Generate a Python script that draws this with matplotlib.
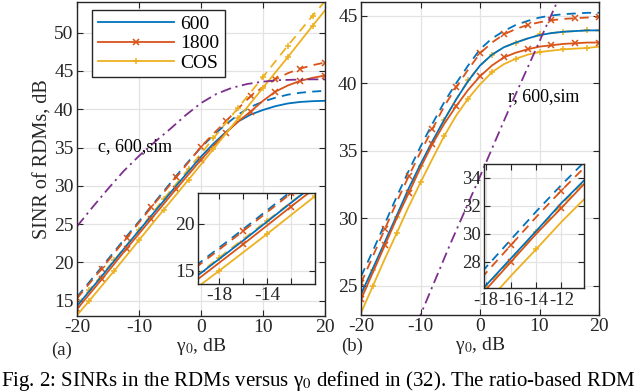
import numpy as np
import matplotlib.pyplot as plt

plt.rcParams['font.family'] = ['Liberation Serif', 'DejaVu Serif']
plt.rcParams['mathtext.fontset'] = 'stix'
plt.rcParams['axes.unicode_minus'] = False

BLUE = '#0072BD'
ORANGE = '#D95319'
YELLOW = '#EDB120'
PURPLE = '#7E2F8E'
DARK = '#262626'

gamma = [-20, -18, -16, -14, -12, -10, -8, -6, -4, -2, 0,
         2, 4, 6, 8, 10, 12, 14, 16, 18, 20]

# (a) c-based RDM
a_600 = [14.3, 16.25, 18.2, 20.2, 22.2, 24.15, 26.1, 28.05, 30.0, 31.9, 33.8,
         35.5, 37.0, 38.4, 39.3, 39.9, 40.4, 40.75, 40.95, 41.05, 41.1]
a_600_d = [15.5, 17.45, 19.4, 21.4, 23.4, 25.35, 27.35, 29.3, 31.3, 33.2, 35.0,
           36.6, 38.0, 39.3, 40.3, 41.0, 41.5, 41.9, 42.15, 42.3, 42.4]
a_1800 = [13.9, 15.85, 17.8, 19.8, 21.8, 23.75, 25.7, 27.65, 29.6, 31.5, 33.4,
          35.2, 36.9, 38.4, 39.7, 41.1, 42.3, 43.1, 43.7, 44.1, 44.4]
a_1800_d = [15.3, 17.25, 19.2, 21.2, 23.2, 25.2, 27.2, 29.15, 31.1, 33.1, 35.1,
            36.8, 38.4, 40.1, 41.7, 42.9, 43.9, 44.7, 45.3, 45.75, 46.1]
a_cos = [13.1, 15.0, 16.95, 18.9, 20.9, 22.9, 24.9, 26.9, 28.85, 30.8, 32.8,
         34.8, 36.8, 38.8, 40.8, 42.8, 44.8, 46.8, 48.85, 50.9, 52.9]
a_cos_d = [14.4, 16.4, 18.35, 20.3, 22.25, 24.2, 26.25, 28.3, 30.25, 32.2, 34.2,
           36.2, 38.2, 40.2, 42.2, 44.2, 46.25, 48.3, 50.25, 52.2, 54.1]
a_sim_x = [-20, -17.5, -15, -12.5, -10, -7.5, -5, -2.5, 0, 2.5, 5, 7.5, 10,
           12.5, 15, 17.5, 20]
a_sim = [24.7, 27.2, 29.6, 31.9, 33.9, 35.7, 37.4, 39.2, 40.8, 42.0, 42.8, 43.3,
         43.6, 43.8, 43.85, 43.9, 43.9]

# (b) ratio-based RDM
b_600 = [24.4, 26.3, 28.25, 30.2, 32.2, 34.0, 35.7, 37.3, 38.8, 40.15, 41.3,
         42.1, 42.65, 43.0, 43.3, 43.55, 43.7, 43.8, 43.85, 43.9, 43.9]
b_600_d = [25.7, 27.6, 29.6, 31.6, 33.5, 35.3, 37.0, 38.6, 40.0, 41.3, 42.5,
           43.3, 43.85, 44.3, 44.6, 44.85, 45.0, 45.1, 45.15, 45.2, 45.2]
b_1800 = [24.0, 26.0, 28.0, 30.0, 31.85, 33.75, 35.5, 37.0, 38.3, 39.5, 40.5,
          41.3, 41.9, 42.25, 42.5, 42.7, 42.8, 42.9, 42.95, 43.0, 43.0]
b_1800_d = [25.2, 27.2, 29.2, 31.2, 33.1, 34.9, 36.6, 38.3, 39.7, 41.0, 42.2,
            43.0, 43.6, 44.0, 44.3, 44.5, 44.65, 44.75, 44.8, 44.85, 44.9]
b_cos = [23.0, 25.0, 27.0, 28.9, 30.85, 32.65, 34.4, 36.1, 37.6, 38.85, 39.9,
         40.8, 41.4, 41.8, 42.1, 42.3, 42.4, 42.5, 42.55, 42.6, 42.7]
b_cos_d = [24.3, 26.2, 28.15, 30.1, 32.1, 33.9, 35.6, 37.3, 38.8, 40.2, 41.3,
           42.1, 42.65, 43.0, 43.3, 43.6, 43.7, 43.8, 43.85, 43.9, 43.9]
b_sim_x = [-12, -10, -5, 0, 5, 10, 15]
b_sim = [20.7, 22.85, 28.1, 33.1, 38.2, 43.1, 48.0]

labels = ['600', '1800', 'COS']

TICK_FS = 14


def style_axes(ax, xticks, yticks, xlim, ylim, xlabels=None, fs=TICK_FS):
    ax.set_xlim(xlim)
    ax.set_ylim(ylim)
    ax.set_xticks(xticks)
    ax.set_yticks(yticks)
    if xlabels is not None:
        ax.set_xticklabels(xlabels)
    ax.grid(True, color='#e3e3e3', lw=0.9)
    ax.set_axisbelow(True)
    ax.tick_params(direction='in', top=True, right=True, length=4,
                   width=0.8, colors=DARK, labelsize=fs, pad=2.5)
    for s in ax.spines.values():
        s.set_color(DARK)
        s.set_linewidth(1.0)


def draw(ax, sol, dsh, sim_x, sim):
    handles = []
    cols = [BLUE, ORANGE, YELLOW]
    mks = [None, 'x', '+']
    mev = [None, (0, 2), (1, 2)]
    for y, c, m, me in zip(dsh, cols, mks, mev):
        ax.plot(gamma, y, ls=(0, (5, 3.5)), color=c, lw=1.3, marker=m,
                markevery=me, ms=5, mew=1.1)
    for y, c, m, me, lb in zip(sol, cols, mks, mev, labels):
        h, = ax.plot(gamma, y, '-', color=c, lw=1.3, marker=m,
                     markevery=me, ms=5, mew=1.1, label=lb)
        handles.append(h)
    ax.plot(sim_x, sim, ls=(0, (6, 2.5, 1.2, 2.5)), color=PURPLE, lw=1.3)
    return handles


fig = plt.figure(figsize=(6.4, 3.92), dpi=100)

# panel (a)
axa = fig.add_axes([77 / 640, 1 - 316 / 392, 248 / 640, 314 / 392])
hs = draw(axa, [a_600, a_1800, a_cos], [a_600_d, a_1800_d, a_cos_d],
          a_sim_x, a_sim)
style_axes(axa, [-20, -10, 0, 10, 20], [15, 20, 25, 30, 35, 40, 45, 50],
           (-20, 20), (13, 54))
axa.set_ylabel('SINR of RDMs, dB', fontsize=14.5, color=DARK, labelpad=1)
axa.set_xlabel('γ$_0$, dB', fontsize=14, color=DARK, labelpad=0)
axa.text(-16.6, 35.1, 'c, 600,sim', fontsize=13, va='center', color='k')
leg = axa.legend(handles=hs, loc='upper left', bbox_to_anchor=(0.06, 0.975),
                 borderaxespad=0, fontsize=14, handlelength=3.9,
                 labelspacing=0.08, borderpad=0.3, fancybox=False,
                 framealpha=1, edgecolor=DARK, handletextpad=0.35)
leg.get_frame().set_linewidth(1.0)
leg.set_zorder(10)
fig.text(62 / 640, 1 - 350 / 392, '(a)', fontsize=13.5, ha='center',
         va='center', color=DARK)

# inset (a)
ia = fig.add_axes([198.3 / 640, 1 - 284 / 392, 116.7 / 640, 90.7 / 392])
draw(ia, [a_600, a_1800, a_cos], [a_600_d, a_1800_d, a_cos_d], a_sim_x, a_sim)
style_axes(ia, [-18, -16, -14, -12], [15, 20], (-19.75, -10), (13.6, 23.2),
           ['-18', '', '-14', ''])
ia.set_facecolor('white')

# panel (b)
axb = fig.add_axes([361 / 640, 1 - 315 / 392, 238 / 640, 313 / 392])
draw(axb, [b_600, b_1800, b_cos], [b_600_d, b_1800_d, b_cos_d],
     b_sim_x, b_sim)
style_axes(axb, [-20, -10, 0, 10, 20], [25, 30, 35, 40, 45],
           (-20, 20), (22.85, 46))
axb.set_xlabel('γ$_0$, dB', fontsize=14, color=DARK, labelpad=0)
axb.text(4.7, 39.0, 'r, 600,sim', fontsize=13, va='center', color='k')
fig.text(352 / 640, 1 - 346 / 392, '(b)', fontsize=13.5, ha='center',
         va='center', color=DARK)

# inset (b)
ib = fig.add_axes([484 / 640, 1 - 288.3 / 392, 100 / 640, 124.3 / 392])
draw(ib, [b_600, b_1800, b_cos], [b_600_d, b_1800_d, b_cos_d], b_sim_x, b_sim)
style_axes(ib, [-18, -16, -14, -12], [28, 30, 32, 34], (-18.15, -10.2),
           (26.1, 35), fs=13.5)
ib.set_facecolor('white')

fig.text(1 / 640, 6 / 392,
         'Fig. 2: SINRs in the RDMs versus γ$_0$ defined in (32). '
         'The ratio-based RDM',
         fontsize=15, va='baseline', color='k')

fig.savefig('out.png', dpi=100)
